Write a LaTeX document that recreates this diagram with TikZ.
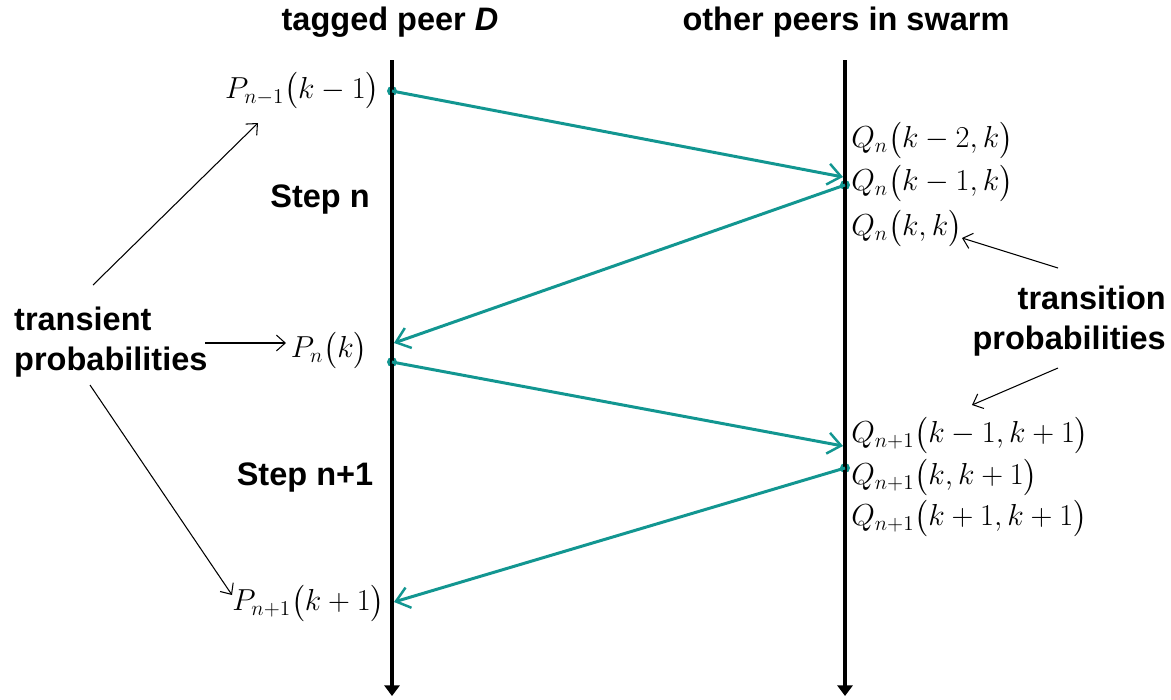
\documentclass[tikz,border=0pt]{standalone}
\usepackage{amsmath}
\usepackage{fontspec}
\setmainfont{Liberation Sans}
\usepackage{xcolor}
\usetikzlibrary{arrows.meta, positioning}
\definecolor{msgteal}{RGB}{18,150,145}

\begin{document}
\begin{tikzpicture}[
    x=0.02cm, y=-0.02cm,
    axis/.style={line width=2pt, -{Triangle[length=6pt,width=8.5pt]}},
    msg/.style={line width=1.7pt, msgteal, -{Straight Barb[length=7.5pt,width=12pt,line width=1.4pt]}},
    note/.style={line width=0.6pt, -{Straight Barb[length=5pt,width=9pt]}},
    dot/.style={circle, fill=msgteal, inner sep=0pt, minimum size=0.2cm},
    head/.style={font=\fontsize{18.5}{22}\selectfont\bfseries},
    lbl/.style={font=\fontsize{18.5}{23}\selectfont\bfseries, align=left},
    prob/.style={font=\fontsize{16.5}{24}\selectfont, inner sep=0pt}
  ]
    \useasboundingbox (0,0) rectangle (1171,700);

    % Nodes
    \node (tagged) [head] at (390,22) {tagged peer \textit{D}};
    \node (others) [head] at (846,22) {other peers in swarm};

    \coordinate (ltop) at (392,60);
    \coordinate (lbot) at (392,696);
    \coordinate (rtop) at (845,60);
    \coordinate (rbot) at (845,696);

    \node (pa) [prob, anchor=east] at (380,91) {$P_{n-1}\bigl(k-1\bigr)$};
    \node (pb) [prob, anchor=east] at (368,350) {$P_n\bigl(k\bigr)$};
    \node (pc) [prob, anchor=east] at (385,603) {$P_{n+1}\bigl(k+1\bigr)$};

    \node (qa) [prob, anchor=west] at (851,140) {$Q_n\bigl(k-2,k\bigr)$};
    \node (qb) [prob, anchor=west] at (851,183) {$Q_n\bigl(k-1,k\bigr)$};
    \node (qc) [prob, anchor=west] at (851,228) {$Q_n\bigl(k,k\bigr)$};
    \node (qd) [prob, anchor=west] at (851,435) {$Q_{n+1}\bigl(k-1,k+1\bigr)$};
    \node (qe) [prob, anchor=west] at (851,477) {$Q_{n+1}\bigl(k,k+1\bigr)$};
    \node (qf) [prob, anchor=west] at (851,518) {$Q_{n+1}\bigl(k+1,k+1\bigr)$};

    \node (stepa) [lbl] at (320,200) {Step n};
    \node (stepb) [lbl] at (305,478) {Step n+1};

    \node (transient) [lbl, anchor=west] at (8,342) {transient\\probabilities};
    \node (transition) [lbl, align=right, anchor=east] at (1172,321) {transition\\probabilities};

    \node (s1) [dot] at (392,91) {};
    \node (s2) [dot] at (845,185) {};
    \node (s3) [dot] at (392,362) {};
    \node (s4) [dot] at (845,468) {};
    \coordinate (r1) at (843,177);
    \coordinate (r2) at (394,343);
    \coordinate (r3) at (843,446);
    \coordinate (r4) at (394,602);

    \coordinate (ta) at (93,285);
    \coordinate (tb) at (205,343);
    \coordinate (tc) at (90,385);
    \coordinate (pa') at (258,123);
    \coordinate (pb') at (286,343);
    \coordinate (pc') at (232,595);
    \coordinate (ua) at (1058,268);
    \coordinate (ub) at (1058,368);
    \coordinate (qc') at (962,238);
    \coordinate (gap) at (972,405);

    % Connections
    \draw [axis] (ltop) -- (lbot);
    \draw [axis] (rtop) -- (rbot);

    \draw [msg] (s1.center) -- (r1);
    \draw [msg] (s2.center) -- (r2);
    \draw [msg] (s3.center) -- (r3);
    \draw [msg] (s4.center) -- (r4);

    \draw [note] (ta) -- (pa');
    \draw [note] (tb) -- (pb');
    \draw [note] (tc) -- (pc');
    \draw [note] (ua) -- (qc');
    \draw [note] (ub) -- (gap);
\end{tikzpicture}
\end{document}
